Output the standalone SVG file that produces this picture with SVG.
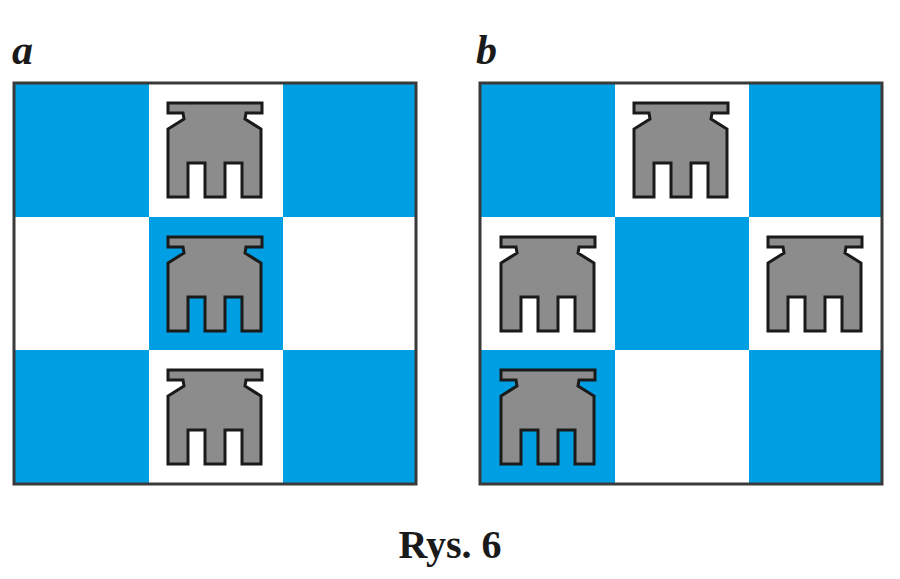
<svg xmlns="http://www.w3.org/2000/svg" xmlns:xlink="http://www.w3.org/1999/xlink" width="900" height="579" viewBox="0 0 900 579">
<style>
.b{fill:#009FE3}.w{fill:#fff}.frame{fill:none;stroke:#3a3a3a;stroke-width:3}
.lbl{font-family:"Liberation Serif",serif;font-weight:bold;fill:#1a1a1a}
.pc{fill:#8c8c8c;stroke:#1a1a1a;stroke-width:3;stroke-linejoin:miter}
</style>
<defs>
<path id="rook" class="pc" d="M19,20 H113 V30 H97 L96,36 L112,46 V114 H93 V80 H76 V114 H56 V80 H39 V114 H19 V46 L35,36 L34,30 H19 Z"/>
</defs>
<rect width="900" height="579" fill="#fff"/>
<text class="lbl" x="12" y="64" font-size="42" font-style="italic">a</text>
<text class="lbl" x="476" y="64" font-size="42" font-style="italic">b</text>
<g id="boardA">
<rect class="b" x="14" y="83" width="135" height="134"/><rect class="w" x="149" y="83" width="134" height="134"/><rect class="b" x="283" y="83" width="133" height="134"/>
<rect class="w" x="14" y="217" width="135" height="133"/><rect class="b" x="149" y="217" width="134" height="133"/><rect class="w" x="283" y="217" width="133" height="133"/>
<rect class="b" x="14" y="350" width="135" height="134"/><rect class="w" x="149" y="350" width="134" height="134"/><rect class="b" x="283" y="350" width="133" height="134"/>
<rect class="frame" x="14" y="83" width="402" height="401"/>
</g>
<g id="boardB">
<rect class="b" x="480" y="83" width="135" height="134"/><rect class="w" x="615" y="83" width="134" height="134"/><rect class="b" x="749" y="83" width="133" height="134"/>
<rect class="w" x="480" y="217" width="135" height="133"/><rect class="b" x="615" y="217" width="134" height="133"/><rect class="w" x="749" y="217" width="133" height="133"/>
<rect class="b" x="480" y="350" width="135" height="134"/><rect class="w" x="615" y="350" width="134" height="134"/><rect class="b" x="749" y="350" width="133" height="134"/>
<rect class="frame" x="480" y="83" width="402" height="401"/>
</g>
<g id="rookA1"><use href="#rook" x="149" y="83"/></g>
<g id="rookA2"><use href="#rook" x="149" y="217"/></g>
<g id="rookA3"><use href="#rook" x="149" y="350"/></g>
<g id="rookB1"><use href="#rook" x="615" y="83"/></g>
<g id="rookB2"><use href="#rook" x="482" y="217"/></g>
<g id="rookB3"><use href="#rook" x="749" y="217"/></g>
<g id="rookB4"><use href="#rook" x="482" y="350"/></g>
<text class="lbl" x="450" y="558" font-size="40" text-anchor="middle">Rys. 6</text>
</svg>
